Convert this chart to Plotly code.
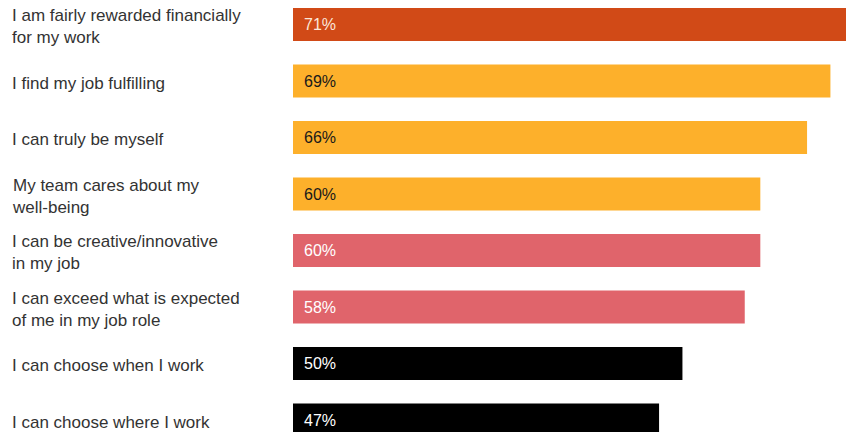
import plotly.graph_objects as go

categories = [
    "I am fairly rewarded financially<br>for my work",
    "I find my job fulfilling",
    "I can truly be myself",
    "My team cares about my<br>well-being",
    "I can be creative/innovative<br>in my job",
    "I can exceed what is expected<br>of me in my job role",
    "I can choose when I work",
    "I can choose where I work",
]
values = [71, 69, 66, 60, 60, 58, 50, 47]
bar_colors = ["#D14A17", "#FDB02B", "#FDB02B", "#FDB02B", "#E0646B", "#E0646B", "#000000", "#000000"]
text_colors = ["#FBE6D8", "#1A1A1A", "#1A1A1A", "#1A1A1A", "#FFFFFF", "#FFFFFF", "#FFFFFF", "#FFFFFF"]

ypos = list(range(len(categories)))

fig = go.Figure(go.Bar(
    x=values, y=ypos, orientation="h",
    marker=dict(color=bar_colors, line=dict(width=0)),
    width=0.585, hoverinfo="skip",
))

FONT = "Liberation Sans, Arial, Helvetica, sans-serif"
for i, (c, v, tc) in enumerate(zip(categories, values, text_colors)):
    fig.add_annotation(x=0, y=i, xref="x", yref="y", text=f"{v}%", showarrow=False,
                       xanchor="left", xshift=9, font=dict(size=16, color=tc, family=FONT))
    fig.add_annotation(x=0, y=i, xref="paper", yref="y", text=c, showarrow=False,
                       xanchor="left", align="left", xshift=-283, yshift=-2,
                       font=dict(size=17, color="#333333", family=FONT))

fig.update_layout(
    width=846, height=424,
    margin=dict(l=285, r=8, t=0, b=0),
    plot_bgcolor="white", paper_bgcolor="white",
    showlegend=False,
    xaxis=dict(range=[0, 71], visible=False),
    yaxis=dict(range=[7.212, -0.2925], visible=False),
)

fig.write_html("out.html")
